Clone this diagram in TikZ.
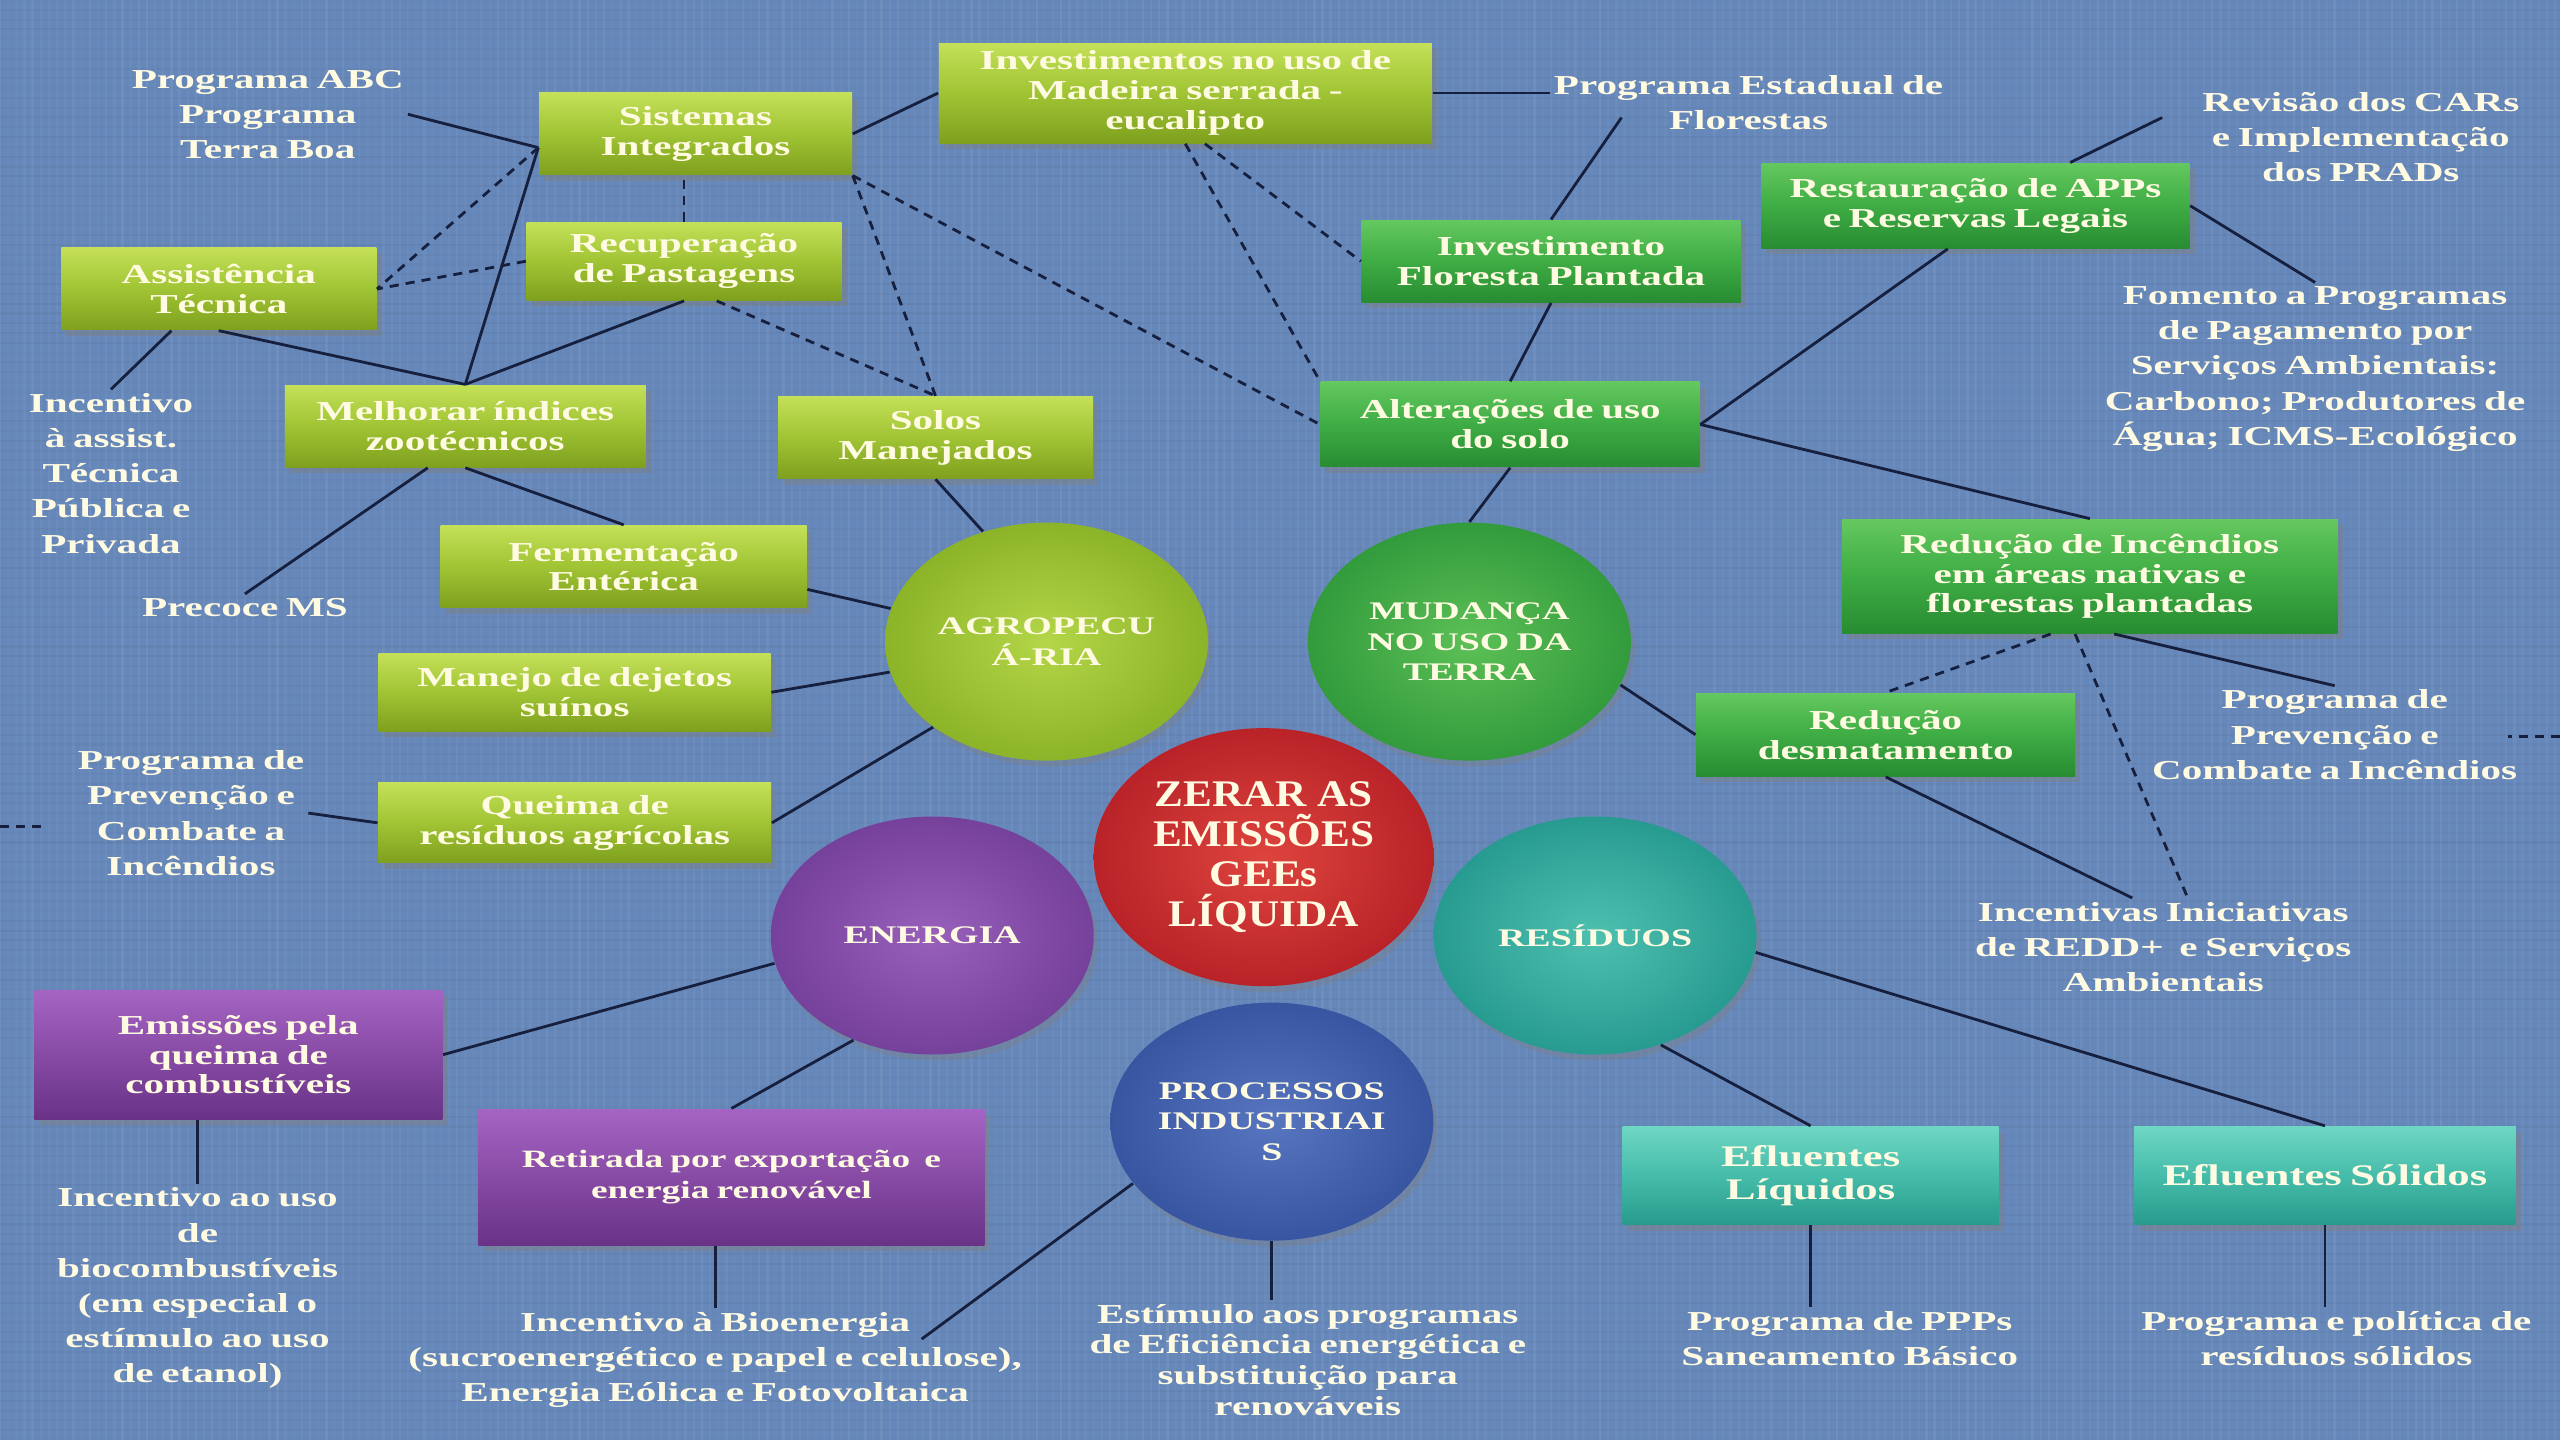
\documentclass[tikz,border=0pt]{standalone}
\usepackage{fontspec}
\setmainfont{Liberation Serif}[FakeStretch=1.5,WordSpace=0.75]
\newfontfamily\zerarfont{Liberation Serif}[FakeStretch=1.15]
\usetikzlibrary{shapes.geometric,shadows,calc}

\definecolor{bgblue}{RGB}{102,135,185}
\definecolor{linec}{RGB}{22,32,62}
\definecolor{txtc}{RGB}{255,250,226}
\definecolor{limetop}{RGB}{196,224,88}
\definecolor{limemid}{RGB}{160,196,52}
\definecolor{limebot}{RGB}{126,160,30}
\definecolor{leaftop}{RGB}{100,200,95}
\definecolor{leafmid}{RGB}{62,172,68}
\definecolor{leafbot}{RGB}{40,140,50}
\definecolor{plumtop}{RGB}{165,100,195}
\definecolor{plummid}{RGB}{135,75,165}
\definecolor{plumbot}{RGB}{105,50,135}
\definecolor{seatop}{RGB}{110,215,195}
\definecolor{seamid}{RGB}{70,188,170}
\definecolor{seabot}{RGB}{40,155,140}
\definecolor{agroin}{RGB}{180,214,72}
\definecolor{agroout}{RGB}{140,180,40}
\definecolor{mudin}{RGB}{92,192,86}
\definecolor{mudout}{RGB}{50,155,60}
\definecolor{zerarin}{RGB}{222,68,62}
\definecolor{zerarout}{RGB}{185,35,40}
\definecolor{enerin}{RGB}{152,96,186}
\definecolor{enerout}{RGB}{118,65,155}
\definecolor{residin}{RGB}{78,192,176}
\definecolor{residout}{RGB}{40,155,145}
\definecolor{procin}{RGB}{88,118,192}
\definecolor{procout}{RGB}{55,85,160}

\begin{document}
\begin{tikzpicture}
  [x=0.16327mm,y=-0.16327mm,
   every node/.style={align=center,text=txtc},
   tile/.style={rectangle,inner sep=1.5pt,font=\bfseries\fontsize{7.8}{8.5}\selectfont,
     drop shadow={shadow xshift=0.5mm,shadow yshift=-0.6mm,opacity=0.45}},
   wh/.style 2 args={minimum width=#1mm,minimum height=#2mm},
   limebox/.style={tile,top color=limetop,bottom color=limebot,middle color=limemid},
   leafbox/.style={tile,top color=leaftop,bottom color=leafbot,middle color=leafmid},
   plumbox/.style={tile,top color=plumtop,bottom color=plumbot,middle color=plummid},
   seabox/.style={tile,top color=seatop,bottom color=seabot,middle color=seamid},
   sector/.style={ellipse,minimum width=32.3mm,minimum height=23.8mm,inner sep=0pt,
     font=\bfseries\fontsize{7.2}{8.6}\selectfont,
     drop shadow={shadow xshift=0.4mm,shadow yshift=-0.6mm,opacity=0.35}},
   lbl/.style={inner sep=1pt,font=\bfseries\fontsize{7.8}{10}\selectfont},
   wire/.style={draw=linec,line width=0.8pt},
   dwire/.style={wire,dash pattern=on 2.6pt off 2pt}]

  \useasboundingbox (0,0) rectangle (1568,882);
  \fill[bgblue] (0,0) rectangle (1568,882);
  % linen texture
  \pgfmathsetseed{7}
  \foreach \i in {0,5,...,1565}
    \draw[white,opacity={0.02+0.05*rnd},line width=0.7pt] (\i,0) -- (\i,882);
  \foreach \j in {0,6,...,882}
    \draw[black,opacity={0.01+0.03*rnd},line width=0.6pt] (0,\j) -- (1568,\j);

  % sectors
  \node[sector,inner color=agroin,outer color=agroout] (agro) at (641,393) {AGROPECU\\Á-RIA};
  \node[sector,inner color=mudin,outer color=mudout] (mud) at (900,393) {MUDANÇA\\NO USO DA\\TERRA};
  \node[sector,inner color=enerin,outer color=enerout] (ener) at (571,573) {ENERGIA};
  \node[sector,inner color=residin,outer color=residout] (resid) at (977,573) {RESÍDUOS};
  \node[sector,inner color=procin,outer color=procout] (proc) at (779,687) {PROCESSOS\\INDUSTRIAI\\S};
  \node[sector,wh={34.0}{25.8},inner color=zerarin,outer color=zerarout,
    font=\zerarfont\bfseries\fontsize{10.7}{11.3}\selectfont] (zerar) at (774,525) {ZERAR AS\\EMISSÕES\\GEEs\\LÍQUIDA};

  % agropecuaria
  \node[limebox,wh={31.3}{8.2}] (sist) at (426,82) {Sistemas\\Integrados};
  \node[limebox,wh={49.3}{10.0}] (invm) at (726,57) {Investimentos no uso de\\Madeira serrada -\\eucalipto};
  \node[limebox,wh={31.5}{7.8}] (recup) at (419,160) {Recuperação\\de Pastagens};
  \node[limebox,wh={31.5}{8.2}] (assist) at (134,177) {Assistência\\Técnica};
  \node[limebox,wh={36.1}{8.2}] (melhor) at (285,261) {Melhorar índices\\zootécnicos};
  \node[limebox,wh={31.5}{8.2}] (solos) at (573,268) {Solos\\Manejados};
  \node[limebox,wh={36.6}{8.2}] (ferm) at (382,347) {Fermentação\\Entérica};
  \node[limebox,wh={39.2}{7.8}] (manejo) at (352,424) {Manejo de dejetos\\suínos};
  \node[limebox,wh={39.3}{8.0}] (queima) at (352,504) {Queima de\\resíduos agrícolas};

  % mudanca no uso da terra
  \node[leafbox,wh={37.9}{8.2}] (invflor) at (950,160) {Investimento\\Floresta Plantada};
  \node[leafbox,wh={42.8}{8.5}] (restaur) at (1210,126) {Restauração de APPs\\e Reservas Legais};
  \node[leafbox,wh={37.9}{8.5}] (alter) at (925,260) {Alterações de uso\\do solo};
  \node[leafbox,wh={49.6}{11.4}] (redinc) at (1280,353) {Redução de Incêndios\\em áreas nativas e\\florestas plantadas};
  \node[leafbox,wh={37.9}{8.3}] (reddes) at (1155,450) {Redução\\desmatamento};

  % energia, residuos
  \node[plumbox,wh={40.8}{12.9}] (emiss) at (146,646) {Emissões pela\\queima de\\combustíveis};
  \node[plumbox,wh={50.6}{13.6},font=\bfseries\fontsize{7.1}{8.6}\selectfont] (retir) at (448,721) {Retirada por exportação\ \ e\\energia renovável};
  \node[seabox,wh={37.6}{9.8},font=\bfseries\fontsize{8.5}{9.2}\selectfont] (efliq) at (1109,720) {Efluentes\\Líquidos};
  \node[seabox,wh={38.2}{9.8},font=\bfseries\fontsize{8.5}{9.2}\selectfont] (efsol) at (1424,720) {Efluentes Sólidos};

  % actions
  \node[lbl] (abc) at (164,70) {Programa ABC\\Programa\\Terra Boa};
  \node[lbl] (estad) at (1071,63) {Programa Estadual de\\Florestas};
  \node[lbl] (revis) at (1446,84) {Revisão dos CARs\\e Implementação\\dos PRADs};
  \node[lbl] (fomento) at (1418,226) {Fomento a Programas\\de Pagamento por\\Serviços Ambientais:\\Carbono; Produtores de\\Água; ICMS-Ecológico};
  \node[lbl] (incass) at (68,290) {Incentivo\\à assist.\\Técnica\\Pública e\\Privada};
  \node[lbl] (precoce) at (150,372) {Precoce MS};
  \node[lbl] (prevA) at (117,498) {Programa de\\Prevenção e\\Combate a\\Incêndios};
  \node[lbl] (prevB) at (1430,450) {Programa de\\Prevenção e\\Combate a Incêndios};
  \node[lbl] (redd) at (1325,580) {Incentivas Iniciativas\\de REDD+\ \ e Serviços\\Ambientais};
  \node[lbl] (biocomb) at (121,789) {Incentivo ao uso\\de\\biocombustíveis\\(em especial o\\estímulo ao uso\\de etanol)};
  \node[lbl] (bioen) at (438,833) {Incentivo à Bioenergia\\(sucroenergético e papel e celulose),\\Energia Eólica e Fotovoltaica};
  \node[lbl,font=\bfseries\fontsize{7.8}{8.8}\selectfont] (estim) at (801,833) {Estímulo aos programas\\de Eficiência energética e\\substituição para\\renováveis};
  \node[lbl] (ppp) at (1133,820) {Programa de PPPs\\Saneamento Básico};
  \node[lbl] (polit) at (1431,820) {Programa e política de\\resíduos sólidos};

  % solid links
  \foreach \from/\to in {abc.east/sist.185, sist.east/invm.west, sist.185/melhor.north,
      assist.south/melhor.north, recup.south/melhor.north, melhor.south/ferm.north,
      manejo.east/agro.191, queima.east/agro.217, prevA.east/queima.west,
      solos.south/agro.120, invflor.south/alter.north, alter.south/mud.north,
      alter.east/redinc.north, restaur.east/fomento.north, mud.-16/reddes.west,
      resid.-6/efsol.north, resid.-59/efliq.north, ener.233/retir.north, ener.190/emiss.east}
    \draw[wire] (\from) -- (\to);
  \draw[wire] (invm.east) -- (invm.east -| estad.west);
  \draw[wire] ($(estad.west)+(44,9)$) -- (invflor.north);
  \draw[wire] (alter.east) -- ($(restaur.south)+(-17,0)$);
  \draw[wire] ($(restaur.north)+(58,0)$) -- ($(revis.west)+(-22,-12)$);
  \draw[wire] ($(ferm.east)+(0,14)$) -- (agro.168);
  \draw[wire] ($(assist.south)+(-29,0)$) -- (incass.north);
  \draw[wire] ($(melhor.south)+(-23,0)$) -- (precoce.north);
  \draw[wire] ($(redinc.south)+(15,0)$) -- (prevB.north);
  \draw[wire] (reddes.south) -- ($(redd.north)+(-19,0)$);
  \draw[wire] (efliq.south) -- (efliq.south |- ppp.north);
  \draw[wire] (efsol.south) -- (efsol.south |- polit.north);
  \draw[wire] (proc.south) -- (proc.south |- estim.north);
  \draw[wire] (proc.204) -- ($(bioen.north east)+(-64,19)$);
  \draw[wire] (bioen.north |- retir.south) -- (bioen.north);
  \draw[wire] (biocomb.north |- emiss.south) -- (biocomb.north);

  % dashed links
  \foreach \from/\to in {sist.south east/alter.west, sist.south east/solos.north,
      invm.south/alter.north west, sist.185/assist.east, recup.west/assist.east}
    \draw[dwire] (\from) -- (\to);
  \draw[dwire] ($(recup.south)+(20,0)$) -- (solos.north);
  \draw[dwire] ($(invm.south)+(12,0)$) -- (invflor.west);
  \draw[dwire] (recup.north) -- (recup.north |- sist.south);
  \draw[dwire] ($(redinc.south)+(-24,0)$) -- (reddes.north);
  \draw[dwire] ($(redinc.south)+(-9,0)$) -- ($(redd.north)+(15,0)$);
  \coordinate (lcut) at (0,506);
  \coordinate (rcut) at (1568,451);
  \draw[dwire] (lcut) -- ++(27,0);
  \draw[dwire] (rcut) -- ++(-32,0);

\end{tikzpicture}
\end{document}
